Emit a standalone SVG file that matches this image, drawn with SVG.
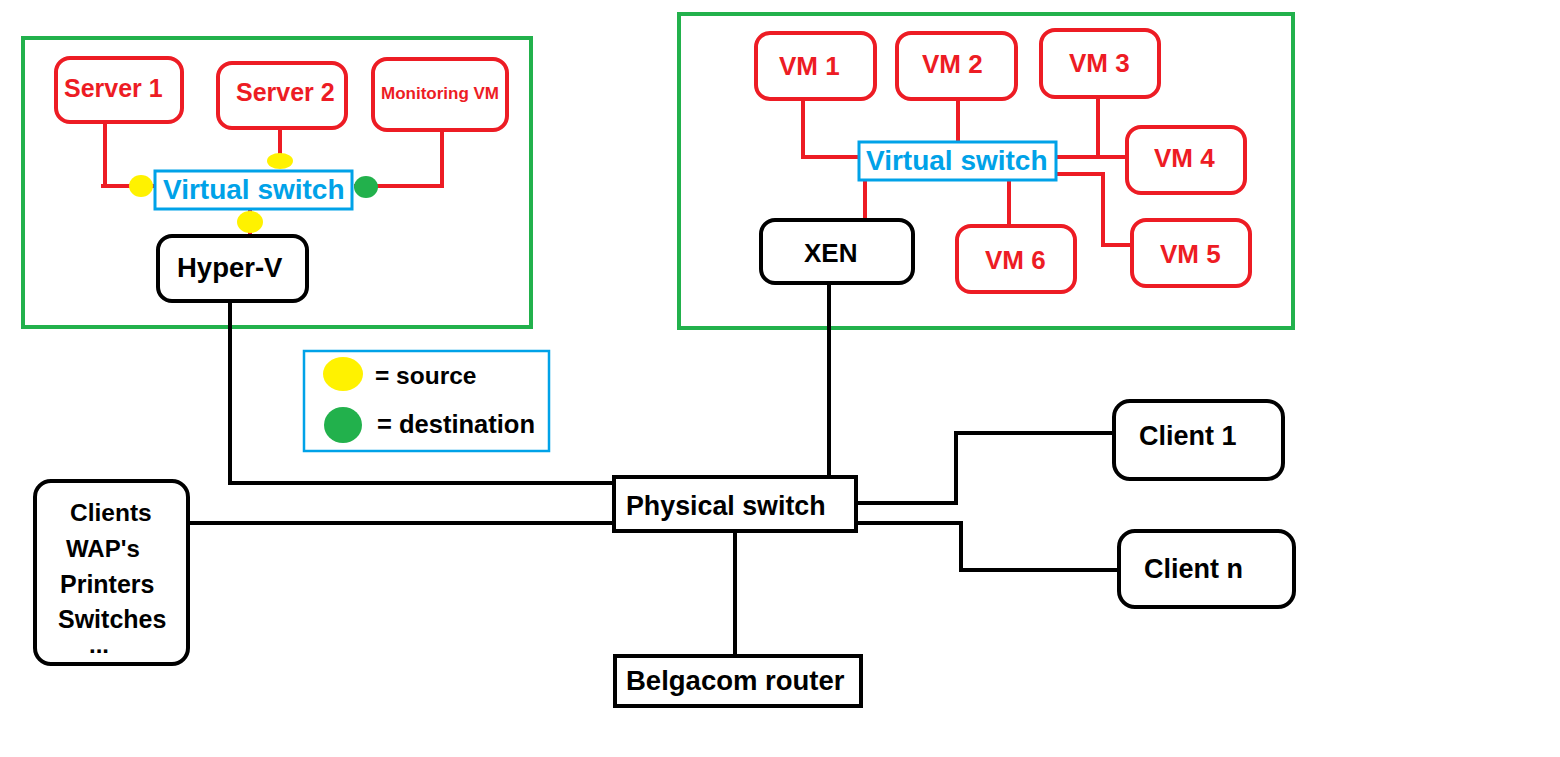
<svg xmlns="http://www.w3.org/2000/svg" width="1560" height="757" viewBox="0 0 1560 757">
<style>
text{font-family:"Liberation Sans",Arial,sans-serif;font-weight:bold}
.red{fill:#fff;stroke:#ED1C24;stroke-width:4}
.blk{fill:#fff;stroke:#000;stroke-width:4}
.grn{fill:none;stroke:#22B14C;stroke-width:4}
.blu{fill:#fff;stroke:#00A2E8;stroke-width:3}
.rt{fill:#ED1C24}
.bt{fill:#00A2E8}
.kt{fill:#000}
.rl{fill:none;stroke:#ED1C24;stroke-width:4}
.kl{fill:none;stroke:#000;stroke-width:4}
.y{fill:#FFF200}
.g{fill:#22B14C}
</style>
<rect width="1560" height="757" fill="#fff"/>
<g id="hyperv-host"><rect class="grn" x="23" y="38" width="508" height="289"/></g>
<g id="xen-host"><rect class="grn" x="679" y="14" width="614" height="314"/></g>
<g id="connectors">
<path class="rl" d="M101,186H155M105,122V186"/>
<path class="rl" d="M280,128V160"/>
<path class="rl" d="M442,130V186H354"/>
<path class="rl" d="M250,210V236"/>
<path class="kl" d="M230,302V483H614"/>
<path class="kl" d="M189,523H614"/>
<path class="kl" d="M829,283V477"/>
<path class="kl" d="M735,533V655"/>
<path class="kl" d="M857,503H956V433H1113"/>
<path class="kl" d="M857,523H961V570H1118"/>
<path class="rl" d="M803,99V157H859"/>
<path class="rl" d="M958,99V142"/>
<path class="rl" d="M1098,97V157"/>
<path class="rl" d="M1056,157H1127"/>
<path class="rl" d="M1056,174H1103V245H1132"/>
<path class="rl" d="M1009,181V225"/>
<path class="rl" d="M865,181V219"/>
</g>
<g id="server1"><rect class="red" x="56" y="58" width="126" height="64" rx="14"/><text class="rt" x="64" y="97" font-size="25">Server 1</text></g>
<g id="server2"><rect class="red" x="218" y="63" width="128" height="65" rx="14"/><text class="rt" x="236" y="101" font-size="25">Server 2</text></g>
<g id="monitoring-vm"><rect class="red" x="373" y="59" width="134" height="71" rx="14"/><text class="rt" x="381" y="99" font-size="17">Monitoring VM</text></g>
<g id="vswitch-left"><rect class="blu" x="155" y="171" width="197" height="38"/><text class="bt" x="163" y="199" font-size="28">Virtual switch</text></g>
<g id="markers">
<ellipse class="y" cx="141" cy="186" rx="12" ry="11"/>
<ellipse class="y" cx="280" cy="161" rx="13" ry="8"/>
<ellipse class="g" cx="366" cy="187" rx="12" ry="11"/>
<ellipse class="y" cx="250" cy="222" rx="13" ry="11"/>
</g>
<g id="hyper-v"><rect class="blk" x="158" y="236" width="149" height="65" rx="14"/><text class="kt" x="177" y="277" font-size="27.5">Hyper-V</text></g>
<g id="vm1"><rect class="red" x="756" y="33" width="119" height="66" rx="14"/><text class="rt" x="779" y="75" font-size="26">VM 1</text></g>
<g id="vm2"><rect class="red" x="897" y="33" width="119" height="66" rx="14"/><text class="rt" x="922" y="73" font-size="26">VM 2</text></g>
<g id="vm3"><rect class="red" x="1041" y="30" width="118" height="67" rx="14"/><text class="rt" x="1069" y="72" font-size="26">VM 3</text></g>
<g id="vm4"><rect class="red" x="1127" y="127" width="118" height="66" rx="14"/><text class="rt" x="1154" y="167" font-size="26">VM 4</text></g>
<g id="vm5"><rect class="red" x="1132" y="220" width="118" height="66" rx="14"/><text class="rt" x="1160" y="263" font-size="26">VM 5</text></g>
<g id="vm6"><rect class="red" x="957" y="226" width="118" height="66" rx="14"/><text class="rt" x="985" y="269" font-size="26">VM 6</text></g>
<g id="vswitch-right"><rect class="blu" x="859" y="142" width="197" height="38"/><text class="bt" x="866" y="170" font-size="28">Virtual switch</text></g>
<g id="xen"><rect class="blk" x="761" y="220" width="152" height="63" rx="14"/><text class="kt" x="804" y="262" font-size="26">XEN</text></g>
<g id="legend">
<rect x="304" y="351" width="245" height="100" fill="#fff" stroke="#00A2E8" stroke-width="2.5"/>
<ellipse class="y" cx="343" cy="374" rx="20" ry="17"/>
<ellipse class="g" cx="343" cy="425" rx="19" ry="18"/>
<text class="kt" x="375" y="384" font-size="24.5">= source</text>
<text class="kt" x="377" y="433" font-size="25.5">= destination</text>
</g>
<g id="physical-switch"><rect class="blk" x="614" y="477" width="242" height="54"/><text class="kt" x="626" y="515" font-size="26.8">Physical switch</text></g>
<g id="belgacom-router"><rect class="blk" x="615" y="656" width="246" height="50"/><text class="kt" x="626" y="690" font-size="27.5">Belgacom router</text></g>
<g id="clients-misc"><rect class="blk" x="35" y="481" width="153" height="183" rx="16"/>
<text class="kt" x="70" y="521" font-size="24.5">Clients</text>
<text class="kt" x="66" y="557" font-size="24">WAP's</text>
<text class="kt" x="60" y="593" font-size="25">Printers</text>
<text class="kt" x="58" y="628" font-size="25">Switches</text>
<text class="kt" x="89" y="653" font-size="24">...</text>
</g>
<g id="client1"><rect class="blk" x="1114" y="401" width="169" height="78" rx="16"/><text class="kt" x="1139" y="445" font-size="27">Client 1</text></g>
<g id="clientn"><rect class="blk" x="1119" y="531" width="175" height="76" rx="16"/><text class="kt" x="1144" y="578" font-size="27">Client n</text></g>
</svg>
